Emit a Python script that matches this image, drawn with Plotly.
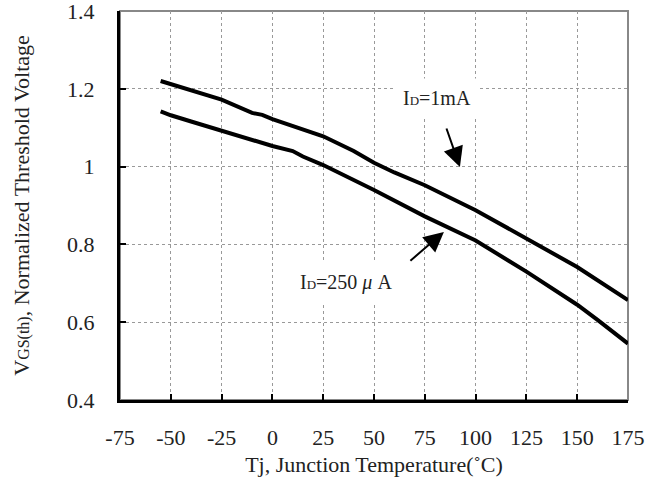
import plotly.graph_objects as go

# Data
temp_1mA = [-55, -50, -40, -25, -10, -5, 0, 10, 25, 40, 50, 60, 75, 100, 125, 150, 175]
vth_1mA = [1.22, 1.212, 1.198, 1.172, 1.138, 1.133, 1.122, 1.105, 1.078, 1.04, 1.01, 0.985, 0.952, 0.888, 0.816, 0.742, 0.657]

temp_250uA = [-55, -50, -40, -25, -10, 0, 10, 15, 25, 40, 50, 75, 100, 125, 150, 160, 175]
vth_250uA = [1.142, 1.132, 1.116, 1.092, 1.07, 1.053, 1.04, 1.026, 1.004, 0.965, 0.94, 0.872, 0.81, 0.73, 0.645, 0.606, 0.545]

x_ticks = [-75, -50, -25, 0, 25, 50, 75, 100, 125, 150, 175]
x_tick_text = ["-75", "-50", "-25", "0", "25", "50", "75", "100", "125", "150", "175"]
y_ticks = [0.4, 0.6, 0.8, 1.0, 1.2, 1.4]
y_tick_text = ["0.4", "0.6", "0.8", "1", "1.2", "1.4"]

FONT = "Liberation Serif"

fig = go.Figure()
fig.add_trace(go.Scatter(x=temp_1mA, y=vth_1mA, mode="lines",
                         line=dict(color="black", width=4), showlegend=False))
fig.add_trace(go.Scatter(x=temp_250uA, y=vth_250uA, mode="lines",
                         line=dict(color="black", width=4), showlegend=False))

# gray outer border (top/right)
fig.add_shape(type="rect", xref="paper", yref="paper", x0=0, y0=0, x1=1, y1=1,
              line=dict(color="#888888", width=2), layer="below")

fig.add_annotation(x=81, y=1.176, text="I<span style='font-size:13px'>D</span>=1mA",
                   showarrow=False, bgcolor="white", borderpad=8,
                   font=dict(family=FONT, size=20, color="#222222"))
fig.add_annotation(x=36, y=0.701, text="I<span style='font-size:13px'>D</span>=250 <i>μ</i> A",
                   showarrow=False, bgcolor="white", borderpad=10,
                   font=dict(family=FONT, size=20, color="#222222"))

fig.add_annotation(x=92.3, y=0.999, ax=-14, ay=-40, text="", showarrow=True,
                   arrowhead=2, arrowsize=2, arrowwidth=2, arrowcolor="black")
fig.add_annotation(x=84.4, y=0.832, ax=-35, ay=30, text="", showarrow=True,
                   arrowhead=2, arrowsize=2, arrowwidth=2, arrowcolor="black")

fig.update_layout(
    width=657, height=488,
    margin=dict(l=120, r=29, t=11, b=88, autoexpand=False),
    plot_bgcolor="white", paper_bgcolor="white",
    font=dict(family=FONT, size=22, color="#222222"),
    xaxis=dict(range=[-75, 175], tickvals=x_ticks, ticktext=x_tick_text,
               ticks="inside", ticklen=6, automargin=False,
               tickwidth=2, tickcolor="black", showline=True, linecolor="black",
               linewidth=3, showgrid=True, gridcolor="#999999", griddash="dot",
               gridwidth=1, zeroline=False, ticklabelstandoff=16,
               ticklabeloverflow="allow",
               tickfont=dict(family=FONT, size=22),
               title=dict(text="Tj, Junction Temperature(˚C)", standoff=8,
                          font=dict(family=FONT, size=22))),
    yaxis=dict(range=[0.4, 1.4], tickvals=y_ticks, ticktext=y_tick_text,
               ticks="inside", ticklen=6, tickwidth=2, tickcolor="black",
               automargin=False,
               showline=True, linecolor="black", linewidth=3, showgrid=True,
               gridcolor="#999999", griddash="dot", gridwidth=1, zeroline=False,
               ticklabelstandoff=18, ticklabeloverflow="allow",
               tickfont=dict(family=FONT, size=22),
               title=dict(text="V<span style='font-size:16px'>GS(th)</span>, Normalized Threshold Voltage",
                          standoff=32, font=dict(family=FONT, size=22))),
)

fig.write_html("out.html")
